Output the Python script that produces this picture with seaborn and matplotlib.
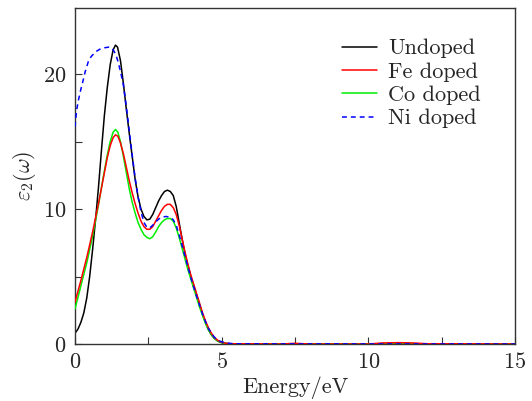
import numpy as np
import pandas as pd
import seaborn as sns
import matplotlib
matplotlib.use("Agg")
import matplotlib.pyplot as plt
from matplotlib.lines import Line2D
from matplotlib.ticker import MultipleLocator

# ---- data ----
labels = ["Undoped", "Fe doped", "Co doped", "Ni doped"]
colors = ["#000000", "#ff0000", "#00ee00", "#0000ff"]

x_undoped = [0, 0.1, 0.2, 0.3, 0.4, 0.5, 0.6, 0.7, 0.8, 0.9, 1.0, 1.1, 1.2, 1.3, 1.38,
             1.45, 1.55, 1.65, 1.75, 1.85, 1.95, 2.05, 2.15, 2.25, 2.35, 2.45, 2.55, 2.65,
             2.75, 2.85, 2.95, 3.05, 3.15, 3.25, 3.35, 3.45, 3.55, 3.65, 3.75, 3.85, 3.95,
             4.05, 4.15, 4.25, 4.35, 4.45, 4.55, 4.65, 4.75, 4.85, 4.95, 5.1, 5.3, 7.5, 15]
y_undoped = [0.8, 1.1, 1.6, 2.3, 3.4, 5.0, 7.0, 9.2, 11.6, 14.3, 16.9, 19.0, 20.7, 21.8, 22.15,
             22.0, 21.0, 19.3, 17.4, 15.6, 13.9, 12.2, 10.9, 10.0, 9.45, 9.2, 9.25, 9.6,
             10.1, 10.6, 11.0, 11.3, 11.4, 11.3, 11.0, 10.2, 9.0, 7.8, 6.7, 5.8, 5.0,
             4.3, 3.6, 2.9, 2.2, 1.6, 1.05, 0.68, 0.42, 0.24, 0.13, 0.05, 0.01, 0.0, 0.0]

x_fe = [0, 0.2, 0.4, 0.6, 0.8, 0.95, 1.1, 1.2, 1.3, 1.38, 1.46, 1.55, 1.65, 1.75, 1.85,
        1.95, 2.05, 2.15, 2.25, 2.35, 2.45, 2.55, 2.65, 2.75, 2.85, 2.95, 3.05, 3.15,
        3.25, 3.35, 3.45, 3.55, 3.65, 3.75, 3.85, 3.95, 4.05, 4.15, 4.25, 4.35, 4.45,
        4.55, 4.65, 4.75, 4.85, 4.95, 5.1, 5.3, 7.0, 7.5, 8.0, 10.0, 10.5, 11.0, 11.5,
        12.0, 15]
y_fe = [3.1, 4.7, 6.4, 8.3, 10.4, 12.1, 13.8, 14.7, 15.3, 15.5, 15.4, 14.9, 14.1, 13.1, 12.1,
        11.2, 10.4, 9.7, 9.1, 8.7, 8.5, 8.5, 8.7, 9.1, 9.5, 9.9, 10.2, 10.35,
        10.35, 10.1, 9.6, 8.8, 7.8, 6.8, 5.9, 5.1, 4.4, 3.7, 3.0, 2.3, 1.7,
        1.2, 0.8, 0.5, 0.3, 0.17, 0.07, 0.02, 0.0, 0.05, 0.0, 0.0, 0.08, 0.1, 0.08,
        0.02, 0.0]

x_co = [0, 0.2, 0.4, 0.6, 0.8, 0.95, 1.1, 1.2, 1.3, 1.38, 1.46, 1.55, 1.65, 1.75, 1.85,
        1.95, 2.05, 2.15, 2.25, 2.35, 2.45, 2.55, 2.65, 2.75, 2.85, 2.95, 3.05, 3.15,
        3.25, 3.35, 3.45, 3.55, 3.65, 3.75, 3.85, 3.95, 4.05, 4.15, 4.25, 4.35, 4.45,
        4.55, 4.65, 4.75, 4.85, 4.95, 5.1, 5.3, 15]
y_co = [2.6, 4.3, 6.0, 8.0, 10.3, 12.2, 14.0, 15.0, 15.7, 15.9, 15.7, 15.0, 13.9, 12.7, 11.5,
        10.5, 9.7, 9.0, 8.5, 8.1, 7.9, 7.8, 7.95, 8.3, 8.7, 9.0, 9.2, 9.3,
        9.3, 9.1, 8.6, 7.9, 7.1, 6.3, 5.5, 4.8, 4.1, 3.4, 2.7, 2.1, 1.5,
        1.05, 0.7, 0.42, 0.25, 0.14, 0.05, 0.01, 0.0]

x_ni = [0, 0.03, 0.07, 0.12, 0.18, 0.25, 0.35, 0.45, 0.55, 0.7, 0.85, 1.0, 1.15, 1.25,
        1.33, 1.4, 1.47, 1.55, 1.65, 1.75, 1.85, 1.95, 2.05, 2.15, 2.25, 2.35, 2.45, 2.55,
        2.65, 2.75, 2.85, 2.95, 3.1, 3.25, 3.35, 3.45, 3.55, 3.65, 3.75, 3.85, 3.95, 4.05,
        4.15, 4.25, 4.35, 4.45, 4.55, 4.65, 4.75, 4.85, 4.95, 5.1, 5.3, 5.6, 15]
y_ni = [16.1, 16.8, 17.5, 18.1, 18.7, 19.3, 20.2, 20.9, 21.3, 21.65, 21.85, 21.95, 22.0, 21.95,
        21.7, 21.4, 20.9, 20.2, 19.2, 17.6, 15.8, 14.0, 12.3, 10.9, 9.8, 9.0, 8.65, 8.6,
        8.8, 9.05, 9.25, 9.4, 9.45, 9.4, 9.2, 8.8, 8.1, 7.3, 6.5, 5.7, 4.9, 4.2,
        3.5, 2.85, 2.2, 1.65, 1.15, 0.8, 0.5, 0.32, 0.2, 0.1, 0.04, 0.01, 0.0]

series = [(x_undoped, y_undoped), (x_fe, y_fe), (x_co, y_co), (x_ni, y_ni)]

# ---- style ----
sns.set_style("ticks")
plt.rcParams.update({
    "font.family": ["cmr10", "DejaVu Serif"],
    "mathtext.fontset": "cm",
    "axes.formatter.use_mathtext": True,
    "axes.unicode_minus": False,
    "axes.edgecolor": "#333333",
    "axes.linewidth": 1.0,
})

fig = plt.figure(figsize=(5.32, 4.01), dpi=100)
ax = fig.add_axes([75 / 532, 1 - 344 / 401, 440 / 532, 336 / 401])

dash = (0, (3.2, 2.6))
linestyles = ["-", "-", "-", dash]
zorders = [2, 4, 3, 5]
for (xs, ys), lab, col, ls, z in zip(series, labels, colors, linestyles, zorders):
    df = pd.DataFrame({"Energy": xs, "eps2": ys})
    sns.lineplot(data=df, x="Energy", y="eps2", ax=ax, color=col, lw=1.1,
                 linestyle=ls, zorder=z, label=None, sort=False)

ax.set_xlim(0, 15)
ax.set_ylim(0, 24.9)
ax.xaxis.set_major_locator(MultipleLocator(5))
ax.xaxis.set_minor_locator(MultipleLocator(2.5))
ax.yaxis.set_major_locator(MultipleLocator(10))
ax.yaxis.set_minor_locator(MultipleLocator(5))
ax.tick_params(which="both", direction="in", top=False, right=False,
               labelsize=16, pad=6, width=0.8, color="#333333")
ax.tick_params(which="major", length=5)
ax.tick_params(which="minor", length=5)

ax.set_xlabel("Energy/eV", fontsize=16, labelpad=3)
ax.set_ylabel(r"$\varepsilon_2(\omega)$", fontsize=16, labelpad=4)

handles = [Line2D([0], [0], color=c, lw=1.1, linestyle=ls) for c, ls in zip(colors, linestyles)]
leg = ax.legend(handles, labels, loc="upper left", bbox_to_anchor=(0.607, 0.908),
                frameon=False, fontsize=16, handlelength=1.58, handletextpad=0.5,
                labelspacing=0.17, borderpad=0, borderaxespad=0)

fig.savefig("out.png", dpi=100)
